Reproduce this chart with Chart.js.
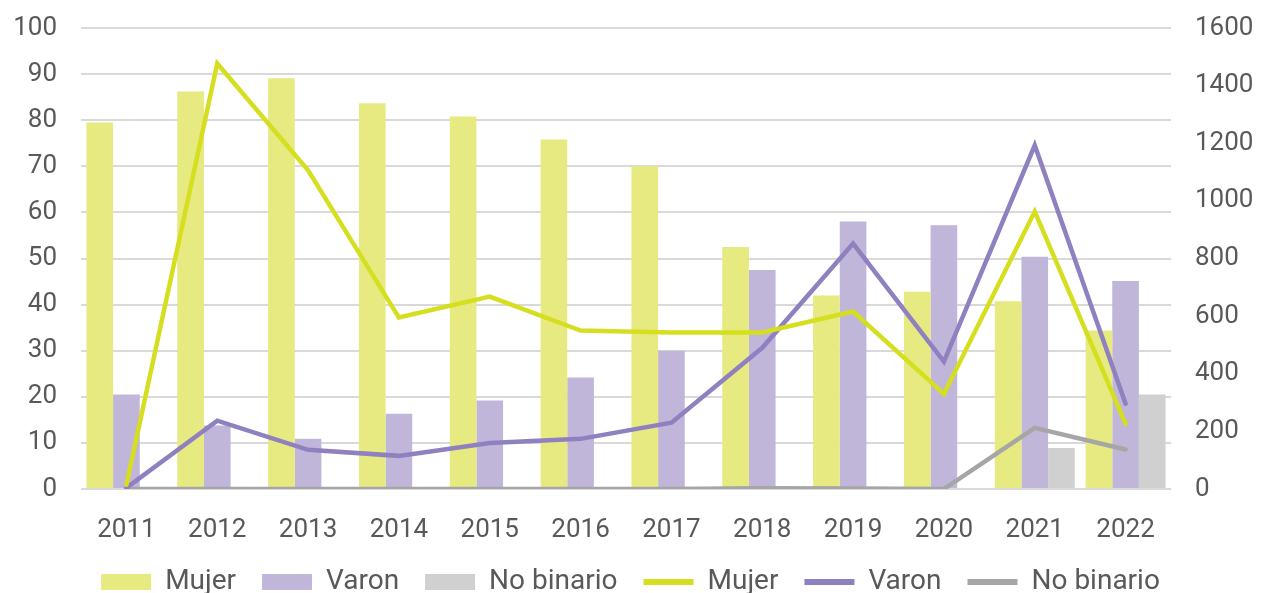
<!DOCTYPE html>
<html>
<head>
<meta charset="utf-8">
<script src="https://cdn.jsdelivr.net/npm/chart.js@4"></script>
<style>
  html, body { margin: 0; padding: 0; background: #fff; }
  #wrap { width: 1261px; height: 593px; }
</style>
</head>
<body>
<div id="wrap"><canvas id="chart" width="1261" height="593"></canvas></div>
<script>
// Años
const years = ['2011', '2012', '2013', '2014', '2015', '2016', '2017', '2018', '2019', '2020', '2021', '2022'];

// Porcentajes (eje izquierdo, barras)
const mujerPct = [79.5, 86.2, 89.1, 83.7, 80.8, 75.8, 70.0, 52.5, 42.0, 42.8, 40.7, 34.4];
const varonPct = [20.5, 13.8, 10.9, 16.3, 19.2, 24.2, 30.0, 47.5, 58.0, 57.2, 50.4, 45.1];
const noBinPct = [0, 0, 0, 0, 0, 0, 0, 0, 0, 0, 8.9, 20.5];

// Totales (eje derecho, líneas)
const mujerTotal = [15, 1477, 1106, 595, 668, 550, 543, 543, 616, 330, 963, 226];
const varonTotal = [4, 237, 136, 115, 160, 174, 230, 490, 852, 442, 1193, 296];
const noBinTotal = [0, 0, 0, 0, 0, 0, 0, 3, 2, 0, 212, 137];

const textColor = '#595959';
const font = { family: 'Roboto', size: 26 };

function barSet(label, data, color) {
    return {
        type: 'bar', label: label, data: data, yAxisID: 'y',
        backgroundColor: color, borderWidth: 0, pointStyle: 'rect', order: 2,
        categoryPercentage: 0.88, barPercentage: 1
    };
}

function lineSet(label, data, color) {
    return {
        type: 'line', label: label, data: data, yAxisID: 'y1',
        borderColor: color, backgroundColor: color, borderWidth: 4.5,
        pointRadius: 0, pointStyle: 'line', tension: 0, order: 1,
        borderCapStyle: 'round'
    };
}

const ctx = document.getElementById('chart').getContext('2d');
new Chart(ctx, {
    data: {
        labels: years,
        datasets: [
            barSet('Mujer', mujerPct, '#e6ea80'),
            barSet('Varon', varonPct, '#c0b6da'),
            barSet('No binario', noBinPct, '#d0d0d0'),
            lineSet('Mujer', mujerTotal, '#d5df1f'),
            lineSet('Varon', varonTotal, '#8f80c0'),
            lineSet('No binario', noBinTotal, '#a6a6a6')
        ]
    },
    options: {
        responsive: false,
        animation: false,
        layout: { padding: { top: 28, bottom: -13 } },
        plugins: {
            tooltip: { enabled: false },
            legend: {
                position: 'bottom',
                labels: {
                    usePointStyle: true,
                    pointStyleWidth: 50,
                    boxHeight: 16,
                    padding: 26,
                    color: textColor,
                    font: { family: 'Roboto', size: 28 },
                    sort: (a, b) => a.datasetIndex - b.datasetIndex,
                    generateLabels: chart => Chart.defaults.plugins.legend.labels.generateLabels(chart).map(l => {
                        if (l.pointStyle === 'line') { l.lineWidth = 6; }
                        return l;
                    })
                }
            }
        },
        scales: {
            x: {
                grid: { display: false },
                border: { display: false },
                ticks: { color: textColor, font: font, padding: 18, maxRotation: 0 },
                afterFit: s => { s.height = 53; }
            },
            y: {
                position: 'left',
                min: 0, max: 100,
                ticks: { stepSize: 10, color: textColor, font: font, padding: 24 },
                grid: { color: '#d9d9d9', lineWidth: 2, drawTicks: false },
                border: { display: false },
                afterFit: s => { s.width = 81; s.paddingTop = 0; s.paddingBottom = 0; }
            },
            y1: {
                position: 'right',
                min: 0, max: 1600,
                ticks: { stepSize: 200, color: textColor, font: font, padding: 24, callback: v => String(v) },
                grid: { display: false, drawTicks: false },
                border: { display: false },
                afterFit: s => { s.width = 90; s.paddingTop = 0; s.paddingBottom = 0; }
            }
        }
    }
});
</script>
</body>
</html>
